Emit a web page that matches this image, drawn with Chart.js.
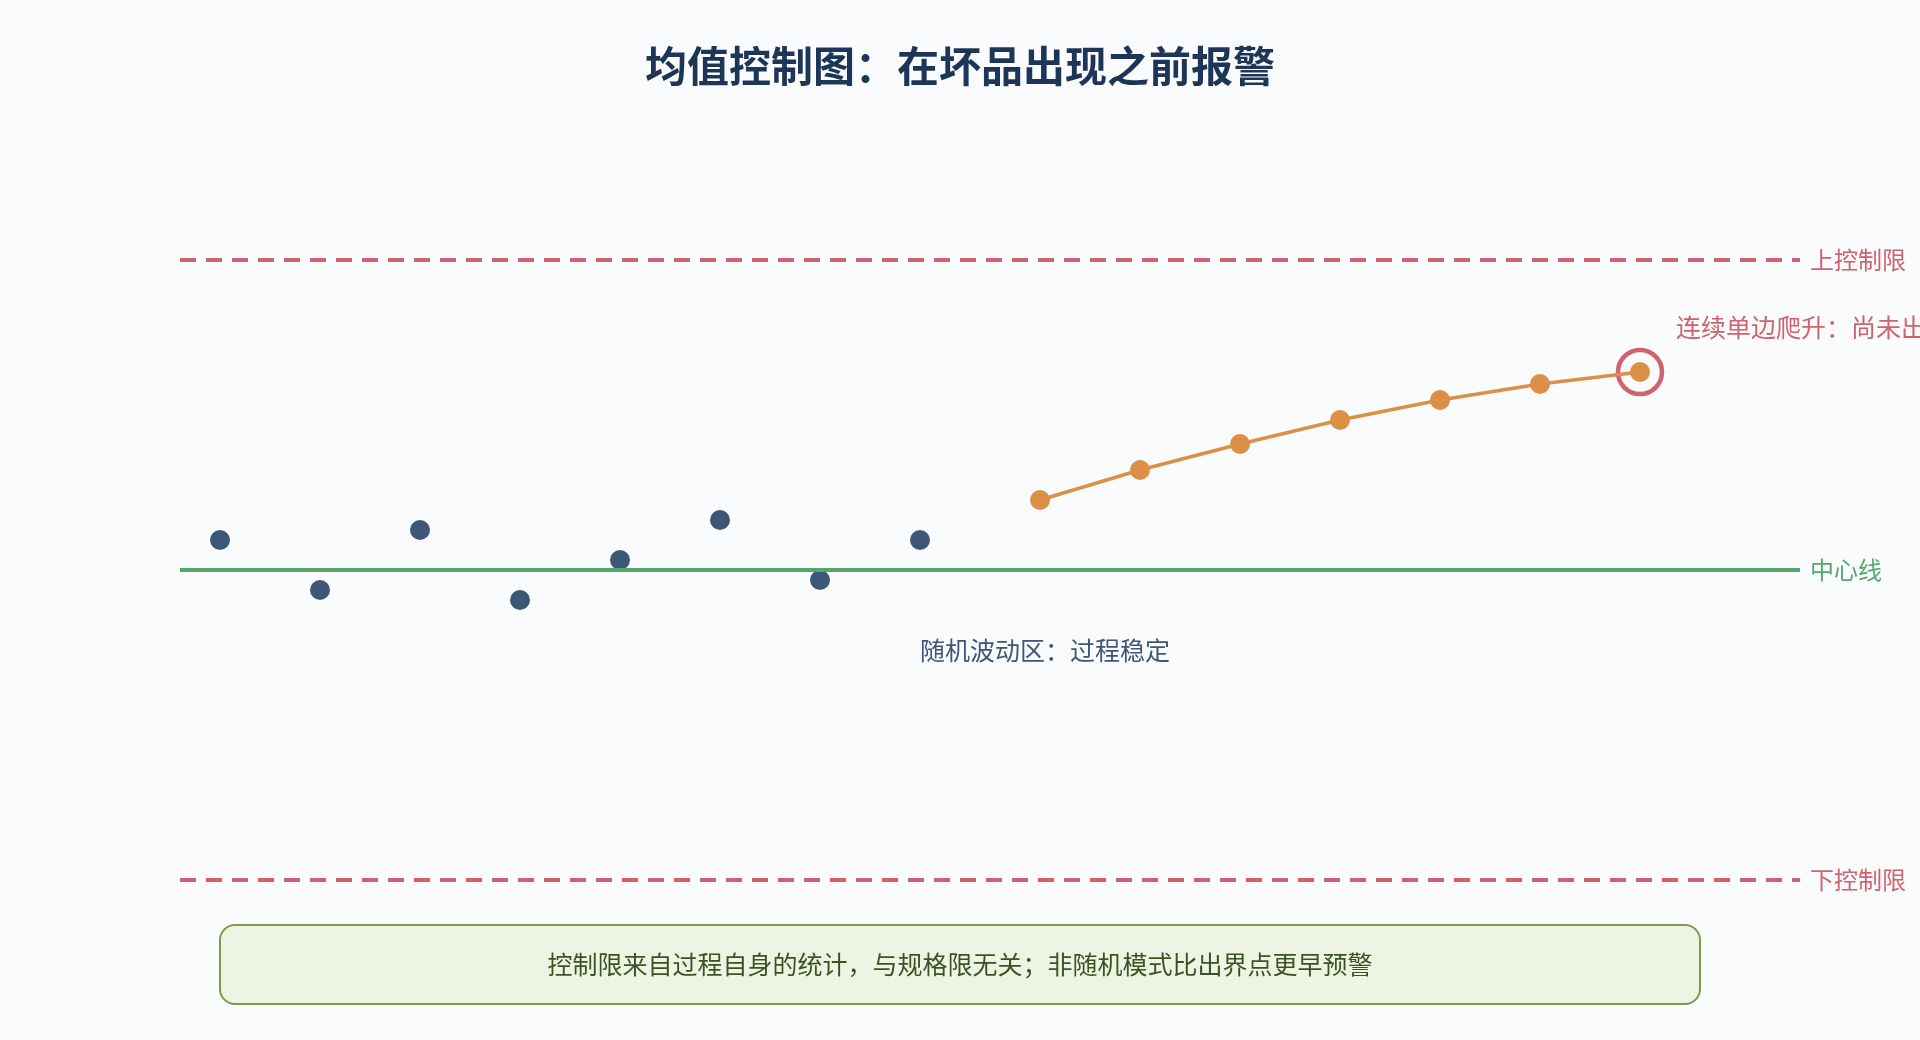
<!DOCTYPE html>
<html>
<head>
<meta charset="utf-8">
<script src="https://cdn.jsdelivr.net/npm/chart.js@4.4.1/dist/chart.umd.min.js"></script>
<style>
  html, body { margin: 0; padding: 0; background: #f9fbfd; }
  canvas { display: block; }
</style>
</head>
<body>
<canvas id="c" width="1920" height="1040"></canvas>
<script>
// ---- data ----
const stableX = [1, 2, 3, 4, 5, 6, 7, 8];
const stableY = [10.3, 9.8, 10.4, 9.7, 10.1, 10.5, 9.9, 10.3];
const trendX = [9.2, 10.2, 11.2, 12.2, 13.2, 14.2, 15.2];
const trendY = [10.7, 11.0, 11.26, 11.5, 11.7, 11.86, 11.98];
const centerLine = 10.0;
const upperLimit = 13.1;
const lowerLimit = 6.9;
const xRange = [0.6, 16.8];
const yRange = [6.3, 13.7];
const limitLabels = ['上控制限', '中心线', '下控制限'];
const titleText = '均值控制图：在坏品出现之前报警';
const trendNote = '连续单边爬升：尚未出界';
const stableNote = '随机波动区：过程稳定';
const footNote = '控制限来自过程自身的统计，与规格限无关；非随机模式比出界点更早预警';

const RED = '#d0626d', GREEN = '#55a66f', BLUE = '#3e5677', ORANGE = '#db8f47';
const FONT = '"Noto Sans CJK SC", "Noto Sans", sans-serif';

const hLine = (y) => [{x: xRange[0], y}, {x: xRange[1], y}];
const pts = (xs, ys) => xs.map((x, i) => ({x, y: ys[i]}));

const decor = {
  id: 'decor',
  beforeDraw(chart) {
    const ctx = chart.ctx;
    ctx.save();
    ctx.fillStyle = '#f9fbfd';
    ctx.fillRect(0, 0, chart.width, chart.height);
    ctx.restore();
  },
  afterDraw(chart) {
    const ctx = chart.ctx;
    const xs = chart.scales.x, ys = chart.scales.y;
    const area = chart.chartArea;
    ctx.save();
    // title
    ctx.fillStyle = '#1d3557';
    ctx.font = 'bold 42px ' + FONT;
    ctx.textAlign = 'center';
    ctx.textBaseline = 'middle';
    ctx.fillText(titleText, 960, 66);
    // limit labels
    ctx.font = '24px ' + FONT;
    ctx.textAlign = 'left';
    const lx = area.right + 10;
    ctx.fillStyle = RED;
    ctx.fillText(limitLabels[0], lx, ys.getPixelForValue(upperLimit));
    ctx.fillStyle = GREEN;
    ctx.fillText(limitLabels[1], lx, ys.getPixelForValue(centerLine));
    ctx.fillStyle = RED;
    ctx.fillText(limitLabels[2], lx, ys.getPixelForValue(lowerLimit));
    // trend note
    const lastX = xs.getPixelForValue(trendX[trendX.length - 1]);
    const lastY = ys.getPixelForValue(trendY[trendY.length - 1]);
    ctx.fillStyle = RED;
    ctx.font = '25px ' + FONT;
    ctx.fillText(trendNote, lastX + 36, lastY - 45);
    // stable note
    ctx.fillStyle = '#3e5677';
    ctx.textAlign = 'center';
    ctx.fillText(stableNote, xs.getPixelForValue(9.25), ys.getPixelForValue(9.2));
    // foot box
    const bx = 220, by = 925, bw = 1480, bh = 79, r = 15;
    ctx.beginPath();
    ctx.moveTo(bx + r, by);
    ctx.arcTo(bx + bw, by, bx + bw, by + bh, r);
    ctx.arcTo(bx + bw, by + bh, bx, by + bh, r);
    ctx.arcTo(bx, by + bh, bx, by, r);
    ctx.arcTo(bx, by, bx + bw, by, r);
    ctx.closePath();
    ctx.fillStyle = '#eef4e3';
    ctx.fill();
    ctx.lineWidth = 2;
    ctx.strokeStyle = '#7b9c4c';
    ctx.stroke();
    ctx.fillStyle = '#3b5323';
    ctx.font = '25px ' + FONT;
    ctx.fillText(footNote, 960, by + bh / 2);
    ctx.restore();
  }
};

new Chart(document.getElementById('c'), {
  type: 'scatter',
  data: {
    datasets: [
      { data: hLine(upperLimit), showLine: true, borderColor: RED, borderWidth: 4, borderDash: [16, 10], pointRadius: 0 },
      { data: hLine(lowerLimit), showLine: true, borderColor: RED, borderWidth: 4, borderDash: [16, 10], pointRadius: 0 },
      { data: hLine(centerLine), showLine: true, borderColor: GREEN, borderWidth: 4, pointRadius: 0 },
      { data: pts(stableX, stableY), showLine: false, pointRadius: 10, pointBackgroundColor: BLUE, pointBorderWidth: 0 },
      { data: pts(trendX, trendY), showLine: true, borderColor: ORANGE, borderWidth: 3.5, pointRadius: 10, pointBackgroundColor: ORANGE, pointBorderWidth: 0 },
      { data: pts(trendX.slice(-1), trendY.slice(-1)), showLine: false, pointRadius: 22, pointBackgroundColor: 'rgba(0,0,0,0)', pointBorderColor: RED, pointBorderWidth: 4.5 }
    ]
  },
  options: {
    responsive: false,
    devicePixelRatio: 1,
    animation: false,
    layout: { padding: { left: 180, right: 120, top: 200, bottom: 100 } },
    plugins: { legend: { display: false }, title: { display: false }, tooltip: { enabled: false } },
    scales: {
      x: { type: 'linear', min: xRange[0], max: xRange[1], display: false },
      y: { type: 'linear', min: yRange[0], max: yRange[1], display: false }
    },
    clip: false
  },
  plugins: [decor]
});
</script>
</body>
</html>
